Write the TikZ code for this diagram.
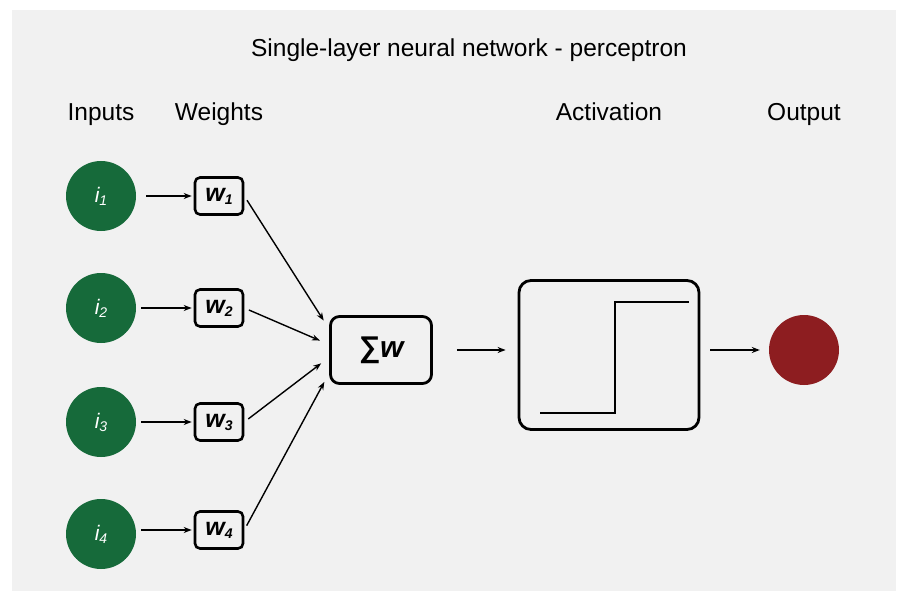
\documentclass[tikz,border=0pt]{standalone}
\usepackage{fontspec}
\setmainfont{Liberation Sans}
\usetikzlibrary{arrows.meta}

\definecolor{panelgray}{RGB}{241,241,241}
\definecolor{inputgreen}{RGB}{22,106,58}
\definecolor{outputred}{RGB}{141,29,32}

\newcommand{\lowidx}[1]{\raisebox{-3pt}{\fontsize{14}{14}\selectfont #1}}

\tikzset{
    input/.style={circle, fill=inputgreen, minimum size=70pt, inner sep=0pt, text=white, font=\fontsize{21}{21}\selectfont\itshape},
    weight/.style={rounded corners=5pt, draw, line width=2.6pt, minimum width=48pt, minimum height=37pt, inner sep=0pt, font=\fontsize{25}{25}\selectfont\bfseries\itshape},
    heading/.style={anchor=base, font=\fontsize{24.5}{24.5}\selectfont}
}

\begin{document}
\begin{tikzpicture}[x=1pt, y=-1pt, >={Stealth[length=8pt,width=6pt]}]
        \useasboundingbox (0,0) rectangle (900,591);
        \fill[panelgray] (12,10) rectangle (896,591);

        % titles
        \node[heading] (title) at (469,57) {Single-layer neural network - perceptron};
        \node[heading] (hin) at (101,121) {Inputs};
        \node[heading] (hw) at (219,121) {Weights};
        \node[heading] (hact) at (609,121) {Activation};
        \node[heading] (hout) at (804,121) {Output};

        \node[input] (i1) at (101,196) {i\lowidx{1}};
        \node[input] (i2) at (101,308) {i\lowidx{2}};
        \node[input] (i3) at (101,422) {i\lowidx{3}};
        \node[input] (i4) at (101,534) {i\lowidx{4}};

        \node[weight] (w1) at (219,196) {w\lowidx{1}};
        \node[weight] (w2) at (219,308) {w\lowidx{2}};
        \node[weight] (w3) at (219,422) {w\lowidx{3}};
        \node[weight] (w4) at (219,530) {w\lowidx{4}};

        \node[rounded corners=9pt, draw, line width=2.8pt, minimum width=101pt, minimum height=67pt, inner sep=0pt,
              font=\fontsize{30}{30}\selectfont\bfseries\itshape] (sum) at (381,350) {∑w};
        \node[rounded corners=12pt, draw, line width=2.8pt, minimum width=180pt, minimum height=149pt] (act) at (609,355) {};
        \node[circle, fill=outputred, minimum size=70pt, inner sep=0pt] (out) at (804,350) {};

        % step function
        \draw[line width=2.4pt] (540,413) -| (615,302) -- (689,302);

        \draw[line width=1.4pt,->,shorten <=10pt,shorten >=2pt] (i1.east) -- (w1.west);
        \draw[line width=1.4pt,->,shorten <=5pt,shorten >=2pt] (i2.east) -- (w2.west);
        \draw[line width=1.4pt,->,shorten <=5pt,shorten >=2pt] (i3.east) -- (w3.west);
        \draw[line width=1.4pt,->,shorten <=5pt,shorten >=2pt] (i4.east |- w4.west) -- (w4.west);

        \draw[line width=1.4pt,->,shorten <=5pt,shorten >=10pt] (w1.east) -- (sum.158);
        \draw[line width=1.4pt,->,shorten <=5pt,shorten >=10pt] (w2.east) -- (sum.174);
        \draw[line width=1.4pt,->,shorten <=5pt,shorten >=10pt] (w3.east) -- (sum.188);
        \draw[line width=1.4pt,->,shorten <=5pt,shorten >=10pt] (w4.east) -- (sum.204);

        \draw[line width=1.4pt,->,shorten <=24pt,shorten >=12pt] (sum.east) -- (act.west |- sum.east);
        \draw[line width=1.4pt,->,shorten <=10pt,shorten >=9pt] (act.east |- out.west) -- (out.west);

    \end{tikzpicture}
\end{document}
